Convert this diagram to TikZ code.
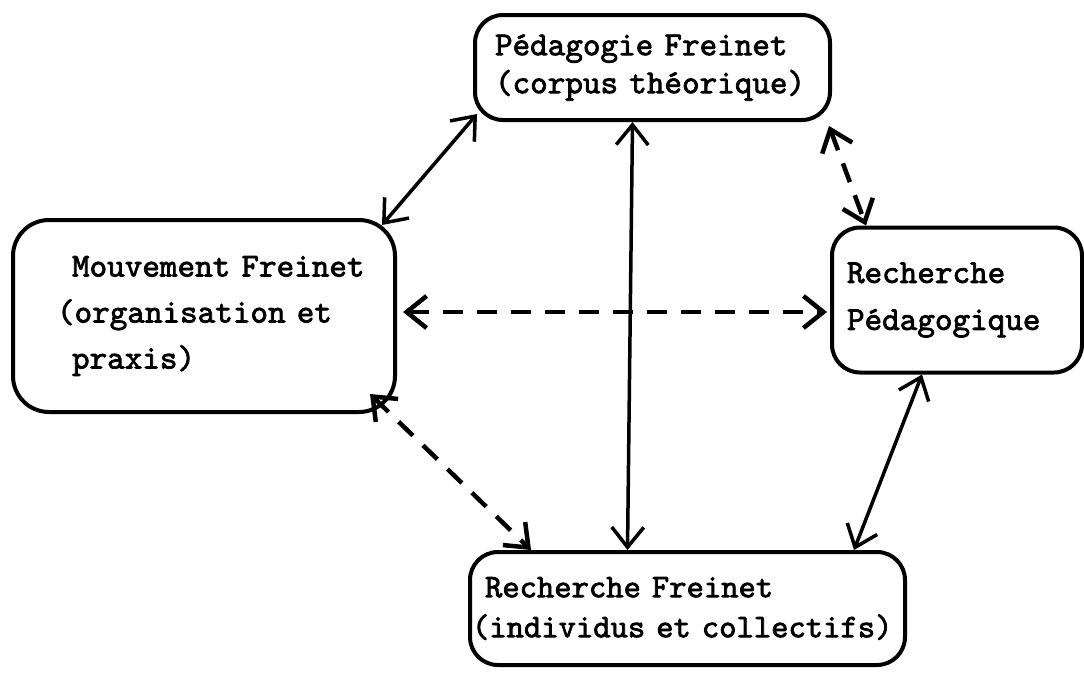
\documentclass[tikz,border=0pt]{standalone}
\usepackage{fontspec}
\usetikzlibrary{arrows.meta}
\newfontfamily\tw{lmmono10-regular}[Extension=.otf,FakeBold=2.2,WordSpace={1,0,0}]
\begin{document}
\begin{tikzpicture}[x=1pt,y=1pt,
  box/.style={draw, line width=4pt, rounded corners=28pt, inner xsep=0pt, inner ysep=0pt, align=left},
  link/.style={line width=3.5pt, line cap=round, {Straight Barb[length=20pt,width=32pt]}-{Straight Barb[length=20pt,width=32pt]}},
  dlink/.style={link, line width=4.5pt, line cap=butt, dash pattern=on 20pt off 14pt}
]
\fill[white] (0,0) rectangle (1084,-675);
\useasboundingbox (0,0) rectangle (1084,-675);

\node[box, minimum width=355pt, minimum height=105pt, text width=355pt,
      font=\tw\fontsize{33.5}{38}\selectfont] (ped) at (652.5,-67.5)
  {\mbox{\hspace*{20pt}P\'edagogie Freinet}\\\mbox{\hspace*{20pt}(corpus th\'eorique)}};

\node[box, rounded corners=36pt, minimum width=382pt, minimum height=192pt, text width=382pt,
      font=\tw\fontsize{33.5}{46}\selectfont] (mouv) at (204,-316)
  {\mbox{\hspace*{59pt}Mouvement Freinet}\\\mbox{\hspace*{44pt}(organisation et}\\\mbox{\hspace*{59pt}praxis)}};

\node[box, minimum width=250pt, minimum height=145pt, text width=250pt,
      font=\tw\fontsize{33.5}{47}\selectfont] (rp) at (957,-300)
  {\mbox{\hspace*{15pt}Recherche}\\\mbox{\hspace*{15pt}P\'edagogique}};

\node[box, minimum width=435pt, minimum height=113pt, text width=435pt,
      font=\tw\fontsize{33}{40}\selectfont] (rf) at (687.5,-608.5)
  {\mbox{\hspace*{15pt}Recherche Freinet}\\\mbox{\hspace*{2pt}(individus et collectifs)}};

% solid connectors
\draw[link] ([shift={(4pt,8pt)}]ped.south west) -- ([shift={(-15pt,-7pt)}]mouv.north east);
\draw[link] ([xshift=-20pt]ped.south) -- ([xshift=-60pt]rf.north);
\draw[link] ([xshift=-35pt]rp.south) -- ([xshift=-53pt]rf.north east);
% dashed connectors
\draw[dlink] ([xshift=-3pt,yshift=-4pt]ped.south east) -- ([xshift=36pt]rp.north west);
\draw[dlink] ([xshift=6pt,yshift=4pt]mouv.east) -- ([xshift=-3pt,yshift=-12pt]rp.west);
\draw[dlink] ([shift={(-27pt,20pt)}]mouv.south east) -- ([xshift=63pt]rf.north west);
\end{tikzpicture}
\end{document}
